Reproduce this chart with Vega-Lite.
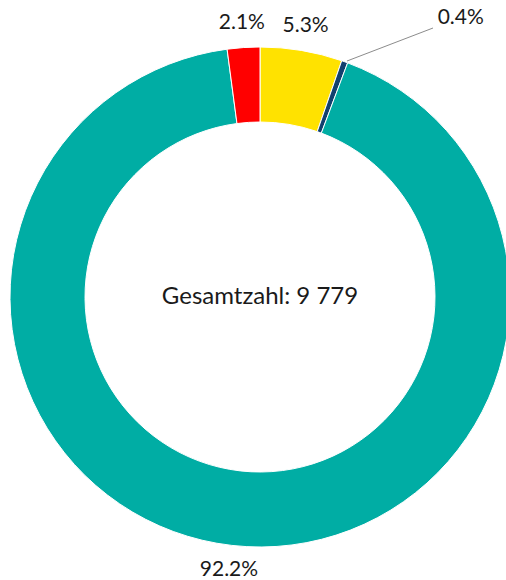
{
  "$schema": "https://vega.github.io/schema/vega-lite/v6.json",
  "width": 492,
  "height": 566,
  "autosize": {"type": "none"},
  "padding": {"left": 14, "top": 14, "right": 0, "bottom": 0},
  "background": "white",
  "config": {"view": {"stroke": null}},
  "datasets": {
    "shares": [
      {"kategorie": "gelb", "anteil": 0.053, "idx": 1},
      {"kategorie": "blau", "anteil": 0.004, "idx": 2},
      {"kategorie": "türkis", "anteil": 0.922, "idx": 3},
      {"kategorie": "rot", "anteil": 0.021, "idx": 4}
    ],
    "leader": [
      {"lx": 87, "ly": 236, "i": 1},
      {"lx": 173, "ly": 269, "i": 2}
    ],
    "total": [{"beschriftung": "Gesamtzahl: 9 779", "cx": 0, "cy": 0}]
  },
  "layer": [
    {
      "data": {"name": "shares"},
      "mark": {"type": "arc", "outerRadius": 250, "innerRadius": 175, "stroke": "white", "strokeWidth": 1},
      "encoding": {
        "theta": {"field": "anteil", "type": "quantitative", "stack": true},
        "order": {"field": "idx", "type": "quantitative"},
        "color": {
          "field": "kategorie",
          "type": "nominal",
          "scale": {"domain": ["gelb", "blau", "türkis", "rot"], "range": ["#FFE200", "#12406E", "#00ADA4", "#FF0000"]},
          "legend": null
        }
      }
    },
    {
      "data": {"name": "shares"},
      "mark": {"type": "text", "radius": 275, "font": "Lato", "fontSize": 21, "color": "#1a1a1a", "align": "center", "baseline": "middle"},
      "encoding": {
        "theta": {"field": "anteil", "type": "quantitative", "stack": true},
        "order": {"field": "idx", "type": "quantitative"},
        "text": {"condition": {"test": "datum.kategorie !== 'blau'", "field": "anteil", "type": "quantitative", "format": ".1%"}, "value": ""}
      }
    },
    {
      "data": {"name": "shares"},
      "mark": {"type": "text", "radius": 344, "thetaOffset": 0.2775, "font": "Lato", "fontSize": 21, "color": "#1a1a1a", "align": "center", "baseline": "middle"},
      "encoding": {
        "theta": {"field": "anteil", "type": "quantitative", "stack": true},
        "order": {"field": "idx", "type": "quantitative"},
        "text": {"condition": {"test": "datum.kategorie === 'blau'", "field": "anteil", "type": "quantitative", "format": ".1%"}, "value": ""}
      }
    },
    {
      "data": {"name": "leader"},
      "mark": {"type": "line", "color": "#8c8c8c", "strokeWidth": 1},
      "encoding": {
        "x": {"field": "lx", "type": "quantitative", "scale": {"domain": [-246, 246], "nice": false, "zero": false}, "axis": null},
        "y": {"field": "ly", "type": "quantitative", "scale": {"domain": [-283, 283], "nice": false, "zero": false}, "axis": null},
        "order": {"field": "i", "type": "quantitative"}
      }
    },
    {
      "data": {"name": "total"},
      "mark": {"type": "text", "font": "Lato", "fontSize": 24, "color": "#1a1a1a", "align": "center", "baseline": "middle"},
      "encoding": {
        "x": {"field": "cx", "type": "quantitative", "scale": {"domain": [-246, 246], "nice": false, "zero": false}, "axis": null},
        "y": {"field": "cy", "type": "quantitative", "scale": {"domain": [-283, 283], "nice": false, "zero": false}, "axis": null},
        "text": {"field": "beschriftung", "type": "nominal"}
      }
    }
  ]
}
